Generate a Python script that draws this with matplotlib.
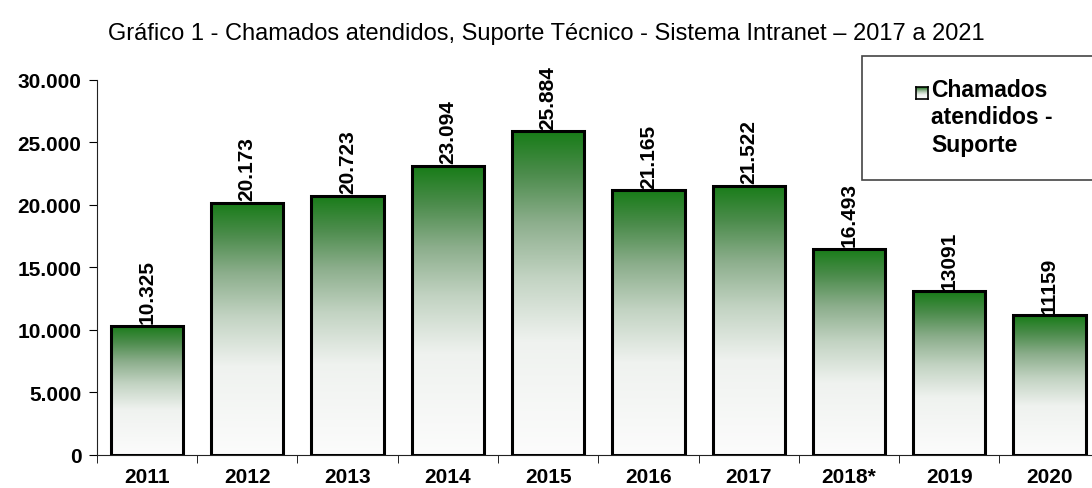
import numpy as np
import matplotlib.pyplot as plt
from matplotlib.colors import LinearSegmentedColormap
from matplotlib.patches import Rectangle

# Data
years = ['2011', '2012', '2013', '2014', '2015', '2016', '2017', '2018*', '2019', '2020']
chamados = [10325, 20173, 20723, 23094, 25884, 21165, 21522, 16493, 13091, 11159]
value_labels = ['10.325', '20.173', '20.723', '23.094', '25.884', '21.165',
                '21.522', '16.493', '13091', '11159']
yticks = [0, 5000, 10000, 15000, 20000, 25000, 30000]

plt.rcParams['font.family'] = ['Liberation Sans', 'DejaVu Sans']

# white at the bottom -> green at the top
grad = LinearSegmentedColormap.from_list(
    'grn', [(0.0, '#fcfcfc'), (0.35, '#eff2ef'), (0.55, '#c2d3c2'),
            (0.72, '#8cae8c'), (0.87, '#4c8c4c'), (1.0, '#187c18')])
g = np.linspace(0, 1, 256).reshape(-1, 1)

fig = plt.figure(figsize=(10.92, 4.89), dpi=100)
ax = fig.add_axes([0.0886, 0.0675, 0.9185, 0.767])

x = np.arange(len(years))
width = 0.72
bars = ax.bar(x, chamados, width=width, facecolor='none', edgecolor='black',
              linewidth=2.2, zorder=3)
for b in bars:
    x0, y1 = b.get_x(), b.get_height()
    ax.imshow(g, cmap=grad, origin='lower', aspect='auto',
              extent=(x0, x0 + b.get_width(), 0, y1), zorder=2)

for xi, v, lab in zip(x, chamados, value_labels):
    ax.annotate(lab, (xi, v), xytext=(0, 2), textcoords='offset points',
                rotation=90, ha='center', va='bottom', fontsize=15,
                fontweight='bold')

ax.set_xlim(-0.5, len(years) - 0.5)
ax.set_ylim(0, 30000)
ax.set_yticks(yticks)
ax.set_yticklabels([f'{t:,}'.replace(',', '.') for t in yticks],
                   fontsize=15, fontweight='bold')
ax.set_xticks(x)
ax.set_xticklabels(years, fontsize=15, fontweight='bold')
ax.set_xticks(np.arange(-0.5, len(years)), minor=True)
ax.tick_params(axis='x', which='major', length=0, pad=9)
ax.tick_params(axis='x', which='minor', length=6, direction='out')
ax.tick_params(axis='y', length=6, direction='out', pad=5)
for s in ['top', 'right']:
    ax.spines[s].set_visible(False)
ax.spines['left'].set_color('#222222')
ax.spines['bottom'].set_color('#222222')

fig.text(0.5, 0.93, 'Gráfico 1 - Chamados atendidos, Suporte Técnico - Sistema Intranet – 2017 a 2021',
         ha='center', va='center', fontsize=17)

# legend box (clipped at right edge as in the original)
fig.patches.append(Rectangle((862 / 1092, 1 - 181 / 489), 0.3, 124 / 489,
                             transform=fig.transFigure, facecolor='white',
                             edgecolor='#444444', linewidth=1.2, zorder=5))
lax = fig.add_axes([916 / 1092, 1 - 100 / 489, 12 / 1092, 12 / 489], zorder=6)
lax.imshow(g, cmap=grad, origin='lower', aspect='auto')
lax.set_xticks([])
lax.set_yticks([])
for s in lax.spines.values():
    s.set_linewidth(1.2)
fig.text(931 / 1092, 1 - 79 / 489, 'Chamados\natendidos -\nSuporte', ha='left',
         va='top', fontsize=16.5, fontweight='bold', linespacing=1.25, zorder=7)

fig.savefig('out.png', dpi=100)
